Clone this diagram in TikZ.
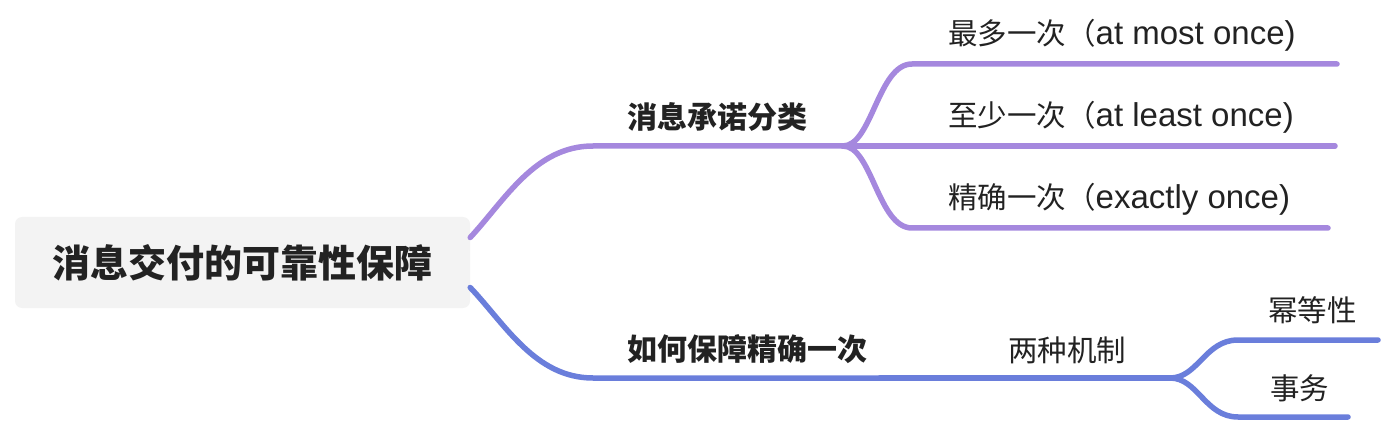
\documentclass[tikz,border=0pt]{standalone}
\usepackage{fontspec}
\setmainfont{Noto Sans CJK SC}
\newfontfamily\latinfont{Liberation Sans}
\newcommand{\lat}[1]{{\latinfont\fontsize{33}{33}\selectfont #1}}
\definecolor{purp}{RGB}{165,136,222}
\definecolor{blu}{RGB}{106,126,219}
\definecolor{rootbg}{RGB}{243,243,243}
\definecolor{textc}{RGB}{34,34,34}
\begin{document}
\begin{tikzpicture}[x=1pt,y=-1pt,
  txt/.style={anchor=west,inner sep=0pt,text=textc,font=\fontsize{29.5}{29.5}\selectfont},
  boldtxt/.style={anchor=west,inner sep=0pt,text=textc,font=\fontsize{30}{30}\selectfont\bfseries},
  pline/.style={draw=purp,line width=5.5pt,line cap=round},
  bline/.style={draw=blu,line width=5.5pt,line cap=round}]
\useasboundingbox (0,0) rectangle (1392,422);
\node[fill=rootbg, rounded corners=7pt, minimum width=455pt, minimum height=91pt, inner sep=0pt,
      font=\fontsize{38}{38}\selectfont\bfseries, text=textc] (root) at (242.5,262.5) {消息交付的可靠性保障};
% level 1
\node[boldtxt] (c1) at (627,117) {消息承诺分类};
\node[boldtxt] (c2) at (627,349) {如何保障精确一次};
% level 2
\node[txt] (c11) at (948,35) {最多一次（\lat{at most once)}};
\node[txt] (c12) at (948,117) {至少一次（\lat{at least once)}};
\node[txt] (c13) at (948,199) {精确一次（\lat{exactly once)}};
\node[txt] (c21) at (1008,350) {两种机制};
\node[txt] (c211) at (1268,310) {幂等性};
\node[txt] (c212) at (1270,388) {事务};
% line points
\coordinate (c1a) at (593,146);
\coordinate (c1b) at (843,146);
\coordinate (c11a) at (912,64);
\coordinate (c11b) at (1337,64);
\coordinate (c12b) at (1335,146);
\coordinate (c13a) at (912,228);
\coordinate (c13b) at (1328,228);
\coordinate (c2a) at (593,378);
\coordinate (c2b) at (880,378);
\coordinate (c21b) at (1170,378);
\coordinate (c211a) at (1238,340);
\coordinate (c211b) at (1378,340);
\coordinate (c212a) at (1238,417);
\coordinate (c212b) at (1348,417);
% connectors
\draw[pline] ([yshift=25pt]root.east) .. controls (505,200) and (535,146) .. (c1a) -- (c1b);
\draw[pline] (c1b) .. controls (872,146) and (878,64) .. (c11a) -- (c11b);
\draw[pline] (c1b) -- (c12b);
\draw[pline] (c1b) .. controls (872,146) and (878,228) .. (c13a) -- (c13b);
\draw[bline] ([yshift=-25pt]root.east) .. controls (505,324) and (535,378) .. (c2a) -- (c2b);
\draw[bline] (c2b) -- (c21b);
\draw[bline] (c21b) .. controls (1198,378) and (1205,340) .. (c211a) -- (c211b);
\draw[bline] (c21b) .. controls (1198,378) and (1205,417) .. (c212a) -- (c212b);
\end{tikzpicture}
\end{document}
